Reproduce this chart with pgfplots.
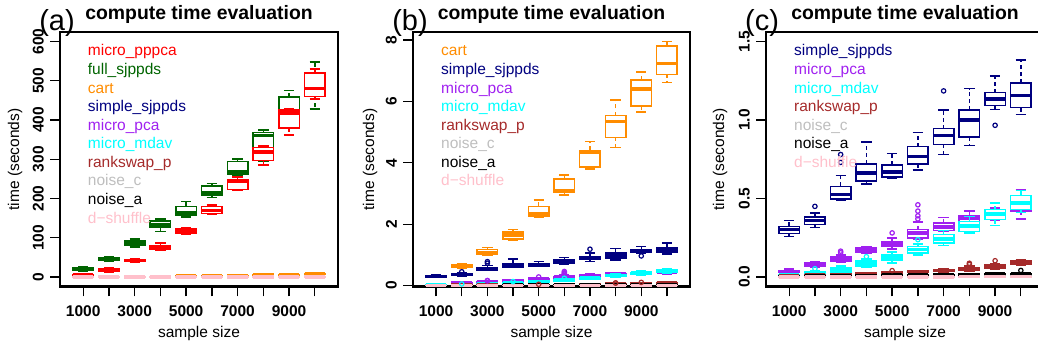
\documentclass[border=0pt]{standalone}
\usepackage{fontspec}
\setmainfont{Liberation Sans}
\usepackage{pgfplots}
\usepackage{pgfplotstable}
\pgfplotsset{compat=1.18}
\usepgfplotslibrary{statistics}

\definecolor{mred}{HTML}{FF0000}
\definecolor{mgreen}{HTML}{006400}
\definecolor{morange}{HTML}{FF8C00}
\definecolor{mnavy}{HTML}{000080}
\definecolor{mpurple}{HTML}{A020F0}
\definecolor{mcyan}{HTML}{00FFFF}
\definecolor{mbrown}{HTML}{A52A2A}
\definecolor{mgray}{HTML}{BEBEBE}
\definecolor{mpink}{HTML}{FFC0CB}

% x = position (1..10 -> 1000..10000), lw lq med uq uw in seconds
\pgfplotstableread{
x lw lq med uq uw
1 3 4 5 6 8
2 13 15 18 21 23
3 37 40 42 45 47
4 68 70 75 79 87
5 110 112 116 122 126
6 160 162 170 180 183
7 221 223 243 249 255
8 285 297 318 330 334
9 362 379 418 426 429
10 454 460 480 519 530
}\tpppca
\pgfplotstableread{
x lw lq med uq uw
1 15 17 21 23 26
2 40 43 46 49 51
3 77 82 87 92 97
4 116 126 133 143 148
5 153 158 165 180 193
6 203 208 214 232 238
7 257 261 267 294 300
8 295 330 360 368 375
9 390 410 422 458 475
10 428 460 475 500 548
}\tfull
\pgfplotstableread{
x lw lq med uq uw
1 0.26 0.28 0.30 0.32 0.35
2 0.57 0.60 0.64 0.68 0.72
3 0.98 1.01 1.08 1.18 1.24
4 1.47 1.52 1.65 1.75 1.82
5 2.22 2.25 2.33 2.58 2.78
6 2.95 3.03 3.09 3.47 3.61
7 3.80 3.86 4.33 4.40 4.69
8 4.50 4.83 5.34 5.54 6.05
9 5.65 5.85 6.41 6.70 6.96
10 6.62 6.88 7.24 7.81 7.95
}\tcart
\pgfplotstableread{
x lw lq med uq uw
1 0.259 0.276 0.302 0.323 0.361
2 0.317 0.334 0.361 0.383 0.408
3 0.489 0.498 0.525 0.578 0.648
4 0.594 0.610 0.661 0.721 0.859
5 0.627 0.638 0.670 0.712 0.787
6 0.680 0.721 0.766 0.830 0.919
7 0.781 0.844 0.902 0.945 1.063
8 0.838 0.891 1.000 1.063 1.200
9 1.068 1.093 1.132 1.174 1.280
10 1.036 1.079 1.157 1.234 1.383
}\tsimple
\pgfplotstableread{
x y
2 0.45
3 0.73
3 0.78
7 1.185
9 0.966
}\osimple
\pgfplotstableread{
x lw lq med uq uw
1 0.025 0.030 0.035 0.042 0.050
2 0.060 0.066 0.080 0.090 0.100
3 0.095 0.100 0.115 0.128 0.140
4 0.150 0.155 0.172 0.185 0.195
5 0.180 0.195 0.210 0.225 0.250
6 0.238 0.249 0.281 0.302 0.349
7 0.290 0.295 0.320 0.345 0.380
8 0.334 0.340 0.376 0.391 0.419
9 0.360 0.380 0.400 0.420 0.440
10 0.370 0.420 0.430 0.520 0.557
}\tpca
\pgfplotstableread{
x y
3 0.155
3 0.165
5 0.281
6 0.37
6 0.39
6 0.42
6 0.46
}\opca
\pgfplotstableread{
x lw lq med uq uw
1 0.008 0.010 0.013 0.016 0.020
2 0.020 0.025 0.030 0.036 0.042
3 0.025 0.032 0.045 0.060 0.072
4 0.062 0.072 0.090 0.106 0.115
5 0.089 0.110 0.126 0.142 0.160
6 0.142 0.153 0.174 0.195 0.212
7 0.200 0.217 0.243 0.270 0.297
8 0.281 0.291 0.325 0.355 0.387
9 0.327 0.366 0.402 0.430 0.472
10 0.410 0.430 0.470 0.520 0.550
}\tmdav
\pgfplotstableread{
x y
2 0.053
4 0.13
6 0.238
}\omdav
\pgfplotstableread{
x lw lq med uq uw
1 0.004 0.006 0.008 0.010 0.012
2 0.007 0.009 0.012 0.014 0.017
3 0.011 0.014 0.017 0.020 0.024
4 0.015 0.018 0.022 0.026 0.030
5 0.020 0.023 0.027 0.031 0.036
6 0.025 0.029 0.033 0.038 0.043
7 0.032 0.036 0.041 0.046 0.052
8 0.040 0.046 0.055 0.062 0.070
9 0.052 0.058 0.068 0.076 0.085
10 0.078 0.080 0.092 0.102 0.108
}\trank
\pgfplotstableread{
x y
5 0.041
8 0.080
8 0.088
9 0.104
}\orank
\pgfplotstableread{
x lw lq med uq uw
1 0.002 0.003 0.004 0.005 0.006
2 0.003 0.004 0.005 0.006 0.008
3 0.004 0.005 0.006 0.008 0.010
4 0.005 0.006 0.008 0.009 0.011
5 0.006 0.007 0.009 0.011 0.013
6 0.007 0.008 0.010 0.012 0.014
7 0.008 0.009 0.011 0.013 0.016
8 0.009 0.010 0.013 0.015 0.018
9 0.010 0.012 0.014 0.016 0.019
10 0.011 0.013 0.015 0.018 0.021
}\tnoisec
\pgfplotstableread{
x lw lq med uq uw
1 0.003 0.004 0.005 0.006 0.008
2 0.005 0.006 0.007 0.008 0.010
3 0.006 0.007 0.009 0.010 0.012
4 0.007 0.009 0.011 0.012 0.014
5 0.008 0.010 0.012 0.014 0.016
6 0.010 0.012 0.014 0.016 0.018
7 0.011 0.013 0.015 0.017 0.020
8 0.012 0.014 0.017 0.019 0.022
9 0.014 0.016 0.019 0.021 0.024
10 0.015 0.018 0.021 0.023 0.027
}\tnoisea
\pgfplotstableread{
x y
10 0.042
}\onoisea
\pgfplotstableread{
x lw lq med uq uw
1 0.0005 0.001 0.002 0.004 0.006
2 0.0005 0.001 0.002 0.004 0.006
3 0.0005 0.001 0.002 0.004 0.006
4 0.0006 0.001 0.002 0.004 0.006
5 0.0006 0.001 0.002 0.004 0.007
6 0.0007 0.001 0.002 0.004 0.007
7 0.0007 0.001 0.002 0.005 0.007
8 0.0008 0.001 0.003 0.005 0.008
9 0.0008 0.001 0.003 0.005 0.008
10 0.0009 0.001 0.003 0.005 0.008
}\tdshuf

\pgfplotsset{
  boxplot/draw/lower whisker/.code={%
    \draw[/pgfplots/boxplot/every whisker/.try, dash pattern=on 4pt off 3pt]
      (boxplot cs:\pgfplotsboxplotvalue{lower quartile}) -- (boxplot cs:\pgfplotsboxplotvalue{lower whisker});
    \draw[/pgfplots/boxplot/every whisker/.try]
      (boxplot whisker cs:\pgfplotsboxplotvalue{lower whisker},0) -- (boxplot whisker cs:\pgfplotsboxplotvalue{lower whisker},1);
  },
  boxplot/draw/upper whisker/.code={%
    \draw[/pgfplots/boxplot/every whisker/.try, dash pattern=on 4pt off 3pt]
      (boxplot cs:\pgfplotsboxplotvalue{upper quartile}) -- (boxplot cs:\pgfplotsboxplotvalue{upper whisker});
    \draw[/pgfplots/boxplot/every whisker/.try]
      (boxplot whisker cs:\pgfplotsboxplotvalue{upper whisker},0) -- (boxplot whisker cs:\pgfplotsboxplotvalue{upper whisker},1);
  },
  bpstyle/.style={solid, line width=1.5pt,
    boxplot/draw direction=y,
    boxplot/box extend=0.8, boxplot/whisker extend=0.4,
    boxplot/every box/.style={fill=white, line width=1.5pt},
    boxplot/every median/.style={line width=3.5pt},
    boxplot/every whisker/.style={line width=1.5pt}},
  panel/.style={scale only axis, anchor=south west,
    xmin=0.1, xmax=10.9,
    xtick={1,...,10}, xticklabels={1000,,3000,,5000,,7000,,9000,},
    tick align=outside, major tick length=10pt,
    xtick pos=left, ytick pos=left,
    axis line style={line width=2.2pt},
    every tick/.style={black, line width=1.3pt},
    tick label style={font=\fontsize{15.5}{16}\selectfont\bfseries},
    yticklabel style={xshift=-6pt, rotate=90, anchor=south, inner sep=0pt},
    xticklabel style={yshift=-9pt, anchor=north, inner sep=0pt},
    clip=true},
}

\newcommand\drawboxes[2]{%
  \pgfplotstablegetrowsof{#1}%
  \pgfmathtruncatemacro\nrows{\pgfplotsretval-1}%
  \pgfplotsforeachungrouped \rr in {0,...,\nrows}{%
    \pgfplotstablegetelem{\rr}{x}\of{#1}\let\bx\pgfplotsretval
    \pgfplotstablegetelem{\rr}{lw}\of{#1}\let\blw\pgfplotsretval
    \pgfplotstablegetelem{\rr}{lq}\of{#1}\let\blq\pgfplotsretval
    \pgfplotstablegetelem{\rr}{med}\of{#1}\let\bmed\pgfplotsretval
    \pgfplotstablegetelem{\rr}{uq}\of{#1}\let\buq\pgfplotsretval
    \pgfplotstablegetelem{\rr}{uw}\of{#1}\let\buw\pgfplotsretval
    \edef\tmp{\noexpand\addplot[#2, bpstyle, boxplot prepared={draw position=\bx, lower whisker=\blw, lower quartile=\blq, median=\bmed, upper quartile=\buq, upper whisker=\buw}] coordinates {};}%
    \tmp
  }%
}
\newcommand\outl[2]{\addplot[only marks, mark=o, mark size=2.2pt, #2, mark options={solid, line width=1.2pt}] table[x=x, y=y] {#1};}

\newcommand\legf{\fontsize{15.5}{16}\selectfont}
\newcommand\leg[4]{\node[anchor=base west, inner sep=0pt, text=#3, font=\legf] at (#1, {347-56-18.56*#2}) {#4};}

\begin{document}
\begin{tikzpicture}[x=1pt, y=1pt]
% ---------------- panel (a)
\begin{axis}[panel, at={(60pt,60.5pt)}, width=278pt, height=254.5pt,
  ymin=-24, ymax=624, ytick={0,100,...,600}, yticklabels={0,100,200,300,400,500,600}]
\drawboxes{\tfull}{mgreen}
\drawboxes{\tpppca}{mred}
\drawboxes{\tcart}{morange}
\drawboxes{\tsimple}{mnavy}
\drawboxes{\tpca}{mpurple}
\drawboxes{\tmdav}{mcyan}
\drawboxes{\trank}{mbrown}
\drawboxes{\tnoisec}{mgray}
\drawboxes{\tnoisea}{black}
\drawboxes{\tdshuf}{mpink}
\end{axis}
% ---------------- panel (b)
\begin{axis}[panel, at={(413pt,60.5pt)}, width=277pt, height=254.5pt,
  ymin=-0.03, ymax=8.26, ytick={0,2,4,6,8}, yticklabels={0,2,4,6,8}]
\drawboxes{\tcart}{morange}
\drawboxes{\tsimple}{mnavy}
\outl{\osimple}{mnavy}
\drawboxes{\tpca}{mpurple}
\outl{\opca}{mpurple}
\drawboxes{\tmdav}{mcyan}
\outl{\omdav}{mcyan}
\drawboxes{\trank}{mbrown}
\outl{\orank}{mbrown}
\drawboxes{\tnoisec}{mgray}
\drawboxes{\tnoisea}{black}
\drawboxes{\tdshuf}{mpink}
\end{axis}
% ---------------- panel (c)
\begin{axis}[panel, at={(766pt,60.5pt)}, width=278pt, height=254.5pt,
  ymin=-0.06, ymax=1.56, ytick={0,0.5,1,1.5}, yticklabels={0.0,0.5,1.0,1.5}]
\drawboxes{\tsimple}{mnavy}
\outl{\osimple}{mnavy}
\drawboxes{\tpca}{mpurple}
\outl{\opca}{mpurple}
\drawboxes{\tmdav}{mcyan}
\outl{\omdav}{mcyan}
\drawboxes{\trank}{mbrown}
\outl{\orank}{mbrown}
\drawboxes{\tnoisec}{mgray}
\drawboxes{\tnoisea}{black}
\outl{\onoisea}{black}
\drawboxes{\tdshuf}{mpink}
\end{axis}

% titles, panel letters, axis labels
\foreach \cx/\lx/\lab in {199/57/a, 551.5/410/b, 905/762/c}{
  \node[anchor=base, inner sep=0pt, font=\fontsize{19.4}{20}\selectfont\bfseries] at (\cx, 327.5) {compute time evaluation};
  \node[anchor=base, inner sep=0pt, font=\fontsize{29}{30}\selectfont] at (\lx, 316) {(\lab)};
  \node[anchor=base, inner sep=0pt, font=\legf] at (\cx, 9) {sample size};
}
\foreach \yx in {19, 374, 724}{
  \node[rotate=90, anchor=base, inner sep=0pt, font=\legf] at (\yx, 187.5) {time (seconds)};
}
% legends
\leg{87.7}{0}{mred}{micro\_pppca}
\leg{87.7}{1}{mgreen}{full\_sjppds}
\leg{87.7}{2}{morange}{cart}
\leg{87.7}{3}{mnavy}{simple\_sjppds}
\leg{87.7}{4}{mpurple}{micro\_pca}
\leg{87.7}{5}{mcyan}{micro\_mdav}
\leg{87.7}{6}{mbrown}{rankswap\_p}
\leg{87.7}{7}{mgray}{noise\_c}
\leg{87.7}{8}{black}{noise\_a}
\leg{87.7}{9}{mpink}{d−shuffle}
\leg{441}{0}{morange}{cart}
\leg{441}{1}{mnavy}{simple\_sjppds}
\leg{441}{2}{mpurple}{micro\_pca}
\leg{441}{3}{mcyan}{micro\_mdav}
\leg{441}{4}{mbrown}{rankswap\_p}
\leg{441}{5}{mgray}{noise\_c}
\leg{441}{6}{black}{noise\_a}
\leg{441}{7}{mpink}{d−shuffle}
\leg{794}{0}{mnavy}{simple\_sjppds}
\leg{794}{1}{mpurple}{micro\_pca}
\leg{794}{2}{mcyan}{micro\_mdav}
\leg{794}{3}{mbrown}{rankswap\_p}
\leg{794}{4}{mgray}{noise\_c}
\leg{794}{5}{black}{noise\_a}
\leg{794}{6}{mpink}{d−shuffle}

\pgfresetboundingbox
\path[use as bounding box] (0,0) rectangle (1038,347);
\end{tikzpicture}
\end{document}
